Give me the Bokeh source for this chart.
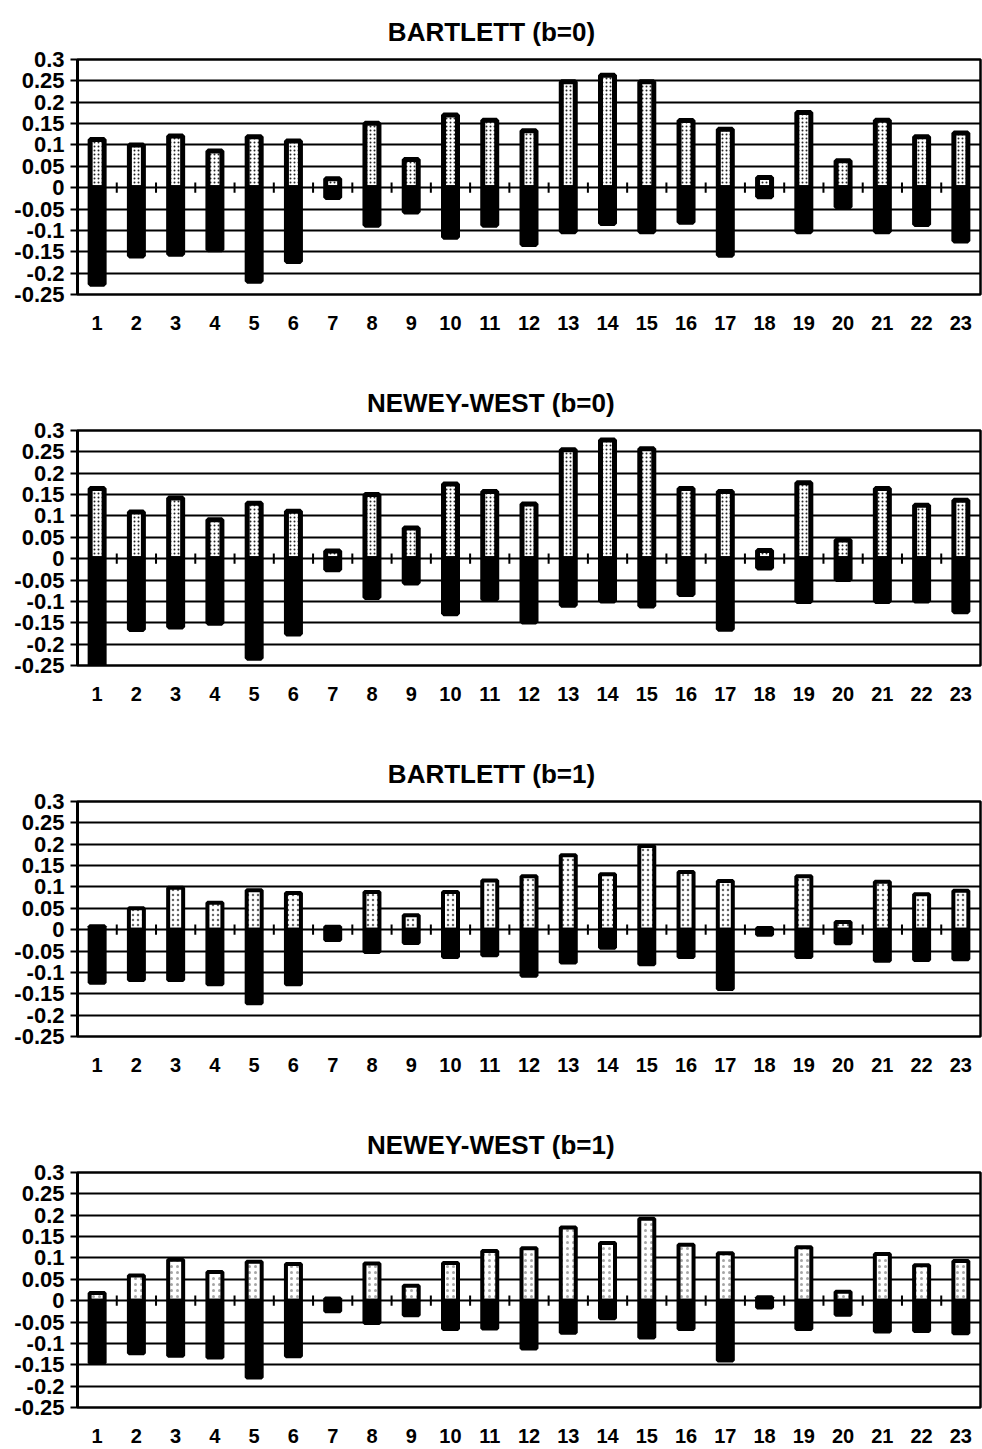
from bokeh.plotting import figure
from bokeh.layouts import column
from bokeh.models import FixedTicker, CustomJSTickFormatter, Range1d, ColumnDataSource
from bokeh.embed import file_html
from bokeh.resources import INLINE

# ---------------- data ----------------
categories = [1, 2, 3, 4, 5, 6, 7, 8, 9, 10, 11, 12, 13, 14, 15, 16, 17, 18, 19, 20, 21, 22, 23]

titles = ["BARTLETT (b=0)", "NEWEY-WEST (b=0)", "BARTLETT (b=1)", "NEWEY-WEST (b=1)"]

bartlett_b0_upper = [0.113, 0.100, 0.121, 0.086, 0.119, 0.109, 0.021, 0.151, 0.066, 0.170, 0.158,
                     0.133, 0.248, 0.263, 0.248, 0.157, 0.137, 0.024, 0.176, 0.063, 0.158, 0.119, 0.128]
bartlett_b0_lower = [-0.226, -0.160, -0.156, -0.145, -0.219, -0.173, -0.023, -0.088, -0.057, -0.116, -0.088,
                     -0.133, -0.103, -0.084, -0.103, -0.081, -0.158, -0.021, -0.103, -0.045, -0.103, -0.086, -0.125]

newey_b0_upper = [0.164, 0.109, 0.142, 0.091, 0.130, 0.111, 0.018, 0.150, 0.072, 0.175, 0.157,
                  0.128, 0.255, 0.278, 0.257, 0.164, 0.157, 0.019, 0.178, 0.044, 0.164, 0.125, 0.137]
newey_b0_lower = [-0.257, -0.166, -0.160, -0.151, -0.233, -0.176, -0.026, -0.091, -0.057, -0.129, -0.095,
                  -0.148, -0.109, -0.099, -0.111, -0.084, -0.165, -0.022, -0.100, -0.049, -0.100, -0.099, -0.124]

bartlett_b1_upper = [0.008, 0.050, 0.098, 0.063, 0.092, 0.086, 0.007, 0.088, 0.034, 0.088, 0.115,
                     0.125, 0.174, 0.130, 0.196, 0.135, 0.114, 0.004, 0.125, 0.018, 0.112, 0.083, 0.091]
bartlett_b1_lower = [-0.124, -0.118, -0.118, -0.128, -0.172, -0.128, -0.024, -0.052, -0.031, -0.064, -0.060,
                     -0.108, -0.077, -0.042, -0.081, -0.064, -0.139, -0.012, -0.064, -0.032, -0.073, -0.071, -0.069]

newey_b1_upper = [0.018, 0.059, 0.096, 0.067, 0.091, 0.086, 0.005, 0.087, 0.035, 0.088, 0.116,
                  0.123, 0.171, 0.135, 0.192, 0.131, 0.111, 0.008, 0.125, 0.021, 0.109, 0.083, 0.093]
newey_b1_lower = [-0.146, -0.123, -0.129, -0.133, -0.180, -0.130, -0.025, -0.052, -0.034, -0.066, -0.065,
                  -0.112, -0.075, -0.041, -0.086, -0.066, -0.140, -0.016, -0.066, -0.033, -0.072, -0.071, -0.076]

y_ticks = [-0.25, -0.2, -0.15, -0.1, -0.05, 0, 0.05, 0.1, 0.15, 0.2, 0.25, 0.3]
y_tick_labels = ["-0.25", "-0.2", "-0.15", "-0.1", "-0.05", "0", "0.05", "0.1", "0.15", "0.2", "0.25", "0.3"]

panels = [
    (titles[0], bartlett_b0_upper, bartlett_b0_lower),
    (titles[1], newey_b0_upper, newey_b0_lower),
    (titles[2], bartlett_b1_upper, bartlett_b1_lower),
    (titles[3], newey_b1_upper, newey_b1_lower),
]

# ---------------- styles ----------------
FONT = "Liberation Sans"
FIG_W = 982
FRAME_H = 235
BORDER_L = 77
BORDER_R = 2
BORDER_T = 59
heights = [371, 371, 371, 332]
bar_line_widths = [5, 5, 4, 4]
hatch_scales = [4, 4, 5, 6]
hatch_weights = [1.5, 1.5, 1.0, 0.8]
hatch_alphas = [0.85, 0.85, 0.6, 0.35]
BAR_OUTER_PX = 19
TITLE_PX = 26
TICK_HALF = 0.012

# approximate Arial Bold advance widths (em) for centring titles over the figure
_w = {"A": .722, "B": .722, "E": .667, "L": .611, "R": .722, "T": .611, "N": .722, "W": .944,
      "Y": .667, "S": .667, "-": .333, " ": .278, "(": .333, ")": .333, "b": .611, "=": .584,
      "0": .556, "1": .556}


def text_width(s, px):
    return sum(_w.get(c, .6) for c in s) * px


px_per_unit = (FIG_W - BORDER_L - BORDER_R) / len(categories)

figs = []
for i, (title, up, lo) in enumerate(panels):
    h = heights[i]
    p = figure(width=FIG_W, height=h,
               x_range=Range1d(0.5, len(categories) + 0.5), y_range=Range1d(-0.25, 0.3),
               output_backend="svg", toolbar_location=None,
               min_border_left=BORDER_L, min_border_right=BORDER_R,
               min_border_top=BORDER_T, min_border_bottom=h - BORDER_T - FRAME_H)
    p.background_fill_color = "white"
    p.border_fill_color = "white"
    p.outline_line_color = "black"
    p.outline_line_width = 2.5

    # title centred over whole figure
    p.title.text = title
    p.title.text_font = FONT
    p.title.text_font_style = "bold"
    p.title.text_font_size = f"{TITLE_PX}px"
    p.title.text_color = "black"
    p.title.align = "left"
    p.title.offset = FIG_W / 2 - BORDER_L - text_width(title, TITLE_PX) / 2
    p.title.standoff = 26

    # y axis
    p.yaxis.ticker = FixedTicker(ticks=y_ticks)
    p.yaxis.formatter = CustomJSTickFormatter(
        args=dict(tvals=y_ticks, tlabels=y_tick_labels),
        code="const k = tvals.findIndex(t => Math.abs(t - tick) < 1e-9); return k >= 0 ? tlabels[k] : '';")
    p.yaxis.major_label_text_font = FONT
    p.yaxis.major_label_text_font_style = "bold"
    p.yaxis.major_label_text_font_size = "22px"
    p.yaxis.major_label_text_color = "black"
    p.yaxis.axis_line_width = 3
    p.yaxis.axis_line_color = "black"
    p.yaxis.major_tick_out = 7
    p.yaxis.major_tick_in = 0
    p.yaxis.major_tick_line_width = 2
    p.yaxis.major_tick_line_color = "black"
    p.yaxis.minor_tick_line_color = None
    p.yaxis.major_label_standoff = 6

    # x axis (labels only)
    p.xaxis.ticker = FixedTicker(ticks=categories)
    p.xaxis.axis_line_color = None
    p.xaxis.major_tick_line_color = None
    p.xaxis.minor_tick_line_color = None
    p.xaxis.major_label_text_font = FONT
    p.xaxis.major_label_text_font_style = "bold"
    p.xaxis.major_label_text_font_size = "20px"
    p.xaxis.major_label_text_color = "black"
    p.xaxis.major_label_standoff = 15

    # grid
    p.xgrid.visible = False
    p.ygrid.ticker = FixedTicker(ticks=y_ticks)
    p.ygrid.grid_line_color = "black"
    p.ygrid.grid_line_width = 2
    p.ygrid.grid_line_alpha = 1

    lw = bar_line_widths[i]
    bw = (BAR_OUTER_PX - lw) / px_per_unit
    src = ColumnDataSource(dict(x=categories, up=up, lo=lo))
    p.vbar(x="x", top="up", bottom=0, width=bw, source=src,
           fill_color="white", line_color="black", line_width=lw,
           hatch_pattern="dot", hatch_scale=hatch_scales[i], hatch_color="black",
           hatch_weight=hatch_weights[i], hatch_alpha=hatch_alphas[i])
    p.vbar(x="x", top=0, bottom="lo", width=bw, source=src,
           fill_color="black", line_color="black", line_width=lw)

    # small ticks on the zero line between categories
    bounds = [c + 0.5 for c in categories[:-1]]
    p.segment(x0=bounds, y0=[-TICK_HALF] * len(bounds), x1=bounds, y1=[TICK_HALF] * len(bounds),
              line_color="black", line_width=2)

    figs.append(p)

layout = column(*figs, spacing=0)
open("out.html", "w").write(file_html(layout, INLINE))
